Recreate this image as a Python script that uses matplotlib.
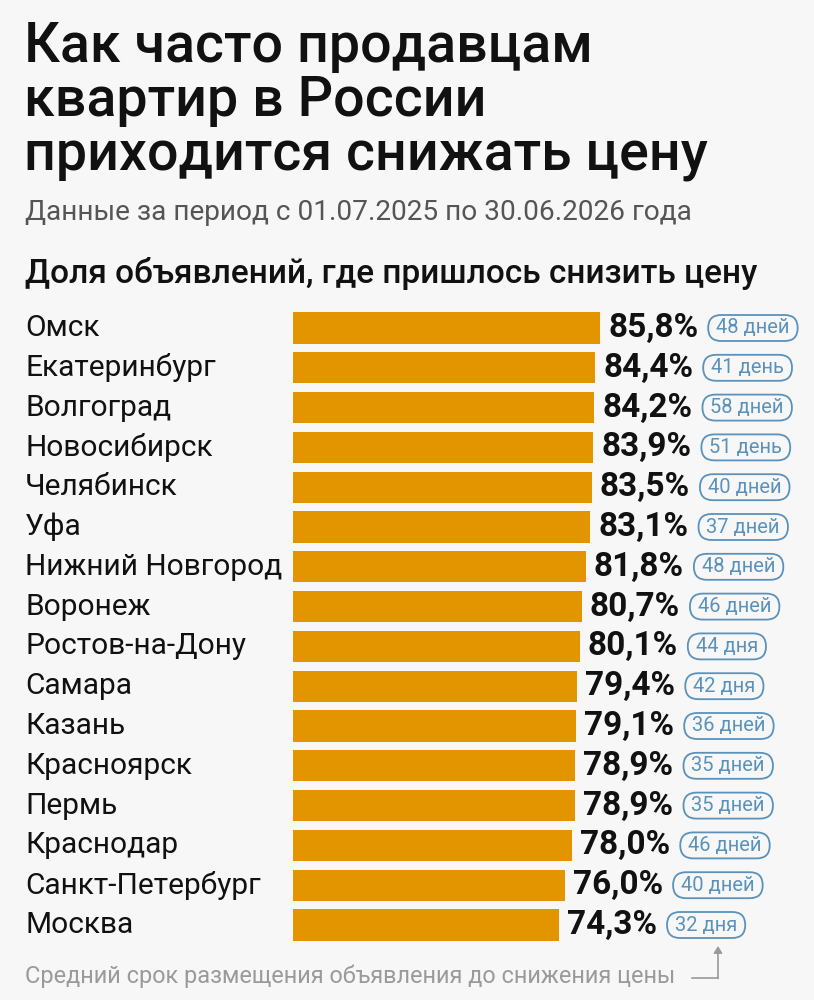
import matplotlib
matplotlib.use("Agg")
import matplotlib.pyplot as plt
from matplotlib.patches import FancyBboxPatch, FancyArrowPatch
from matplotlib.transforms import IdentityTransform

cities = ["Омск", "Екатеринбург", "Волгоград", "Новосибирск", "Челябинск", "Уфа",
          "Нижний Новгород", "Воронеж", "Ростов-на-Дону", "Самара", "Казань",
          "Красноярск", "Пермь", "Краснодар", "Санкт-Петербург", "Москва"]
shares = [85.8, 84.4, 84.2, 83.9, 83.5, 83.1, 81.8, 80.7, 80.1, 79.4, 79.1,
          78.9, 78.9, 78.0, 76.0, 74.3]
days = ["48 дней", "41 день", "58 дней", "51 день", "40 дней", "37 дней",
        "48 дней", "46 дней", "44 дня", "42 дня", "36 дней", "35 дней",
        "35 дней", "46 дней", "40 дней", "32 дня"]

title = "Как часто продавцам\nквартир в России\nприходится снижать цену"
subtitle = "Данные за период с 01.07.2025 по 30.06.2026 года"
header = "Доля объявлений, где пришлось снизить цену"
footnote = "Средний срок размещения объявления до снижения цены"

BG = "#F7F7F7"
BAR = "#E39500"
BLUE = "#5A92BC"
GRAY = "#9A9A9A"
FONT = ["Roboto", "DejaVu Sans"]
plt.rcParams["font.family"] = FONT

W, H = 814, 1000
fig = plt.figure(figsize=(W / 100, H / 100), dpi=100, facecolor=BG)

def fx(px):
    return px / W

def fy(py):
    return 1 - py / H

fig.text(fx(24), fy(101), title, fontsize=40, fontweight=500, va="center", ha="left",
         linespacing=1.02, color="#111111")
fig.text(fx(25), fy(213), subtitle, fontsize=20.2, va="center", ha="left", color="#555555")
fig.text(fx(25), fy(273), header, fontsize=24, fontweight=500, va="center", ha="left",
         color="#111111")

# bars axes
x0, x1 = 293, 814
scale = 3.58  # px per %
row0, step = 328, 39.8
n = len(cities)
top = row0 - step / 2
bottom = row0 + (n - 1) * step + step / 2
ax = fig.add_axes([fx(x0), fy(bottom), (x1 - x0) / W, (bottom - top) / H])
ax.set_facecolor("none")
ax.set_xlim(0, (x1 - x0) / scale)
ax.set_ylim(n - 0.5, -0.5)
ax.axis("off")

ypos = list(range(n))
ax.barh(ypos, shares, height=0.78, color=BAR, edgecolor="none")

badge_texts = []
for i, (c, v, d) in enumerate(zip(cities, shares, days)):
    ax.text(-(x0 - 25) / scale, i, c, fontsize=21.5, va="center", ha="left",
            color="#111111", clip_on=False)
    ax.annotate(f"{v:.1f}%".replace(".", ","), (v, i), xytext=(8, 0),
                textcoords="offset pixels", fontsize=24, fontweight="bold",
                va="center", ha="left", color="#111111")
    t = ax.annotate(d, (v, i), xytext=(116, 0), textcoords="offset pixels",
                    fontsize=14.5, va="center", ha="left", color=BLUE)
    badge_texts.append((t, i))

fig.canvas.draw()
renderer = fig.canvas.get_renderer()
for t, i in badge_texts:
    bb = t.get_window_extent(renderer)
    _, yc = ax.transData.transform((0, i))
    hpad, hh = 8, 13
    p = FancyBboxPatch((bb.x0 - hpad, yc - hh), bb.width + 2 * hpad, 2 * hh,
                       boxstyle=f"round,pad=0,rounding_size={hh}",
                       transform=IdentityTransform(), fc="none", ec=BLUE, lw=1.3)
    fig.add_artist(p)

fig.text(fx(25), fy(976), footnote, fontsize=16.9, va="center", ha="left", color=GRAY)

fig.add_artist(plt.Line2D([fx(692), fx(718)], [fy(978), fy(978)], color=GRAY, lw=1.2))
arr = FancyArrowPatch((fx(718), fy(978.5)), (fx(718), fy(946)), transform=fig.transFigure,
                      arrowstyle="-|>,head_length=4,head_width=2.5", color=GRAY, lw=1.2,
                      shrinkA=0, shrinkB=0)
fig.add_artist(arr)

fig.savefig("out.png", dpi=100, facecolor=BG)
